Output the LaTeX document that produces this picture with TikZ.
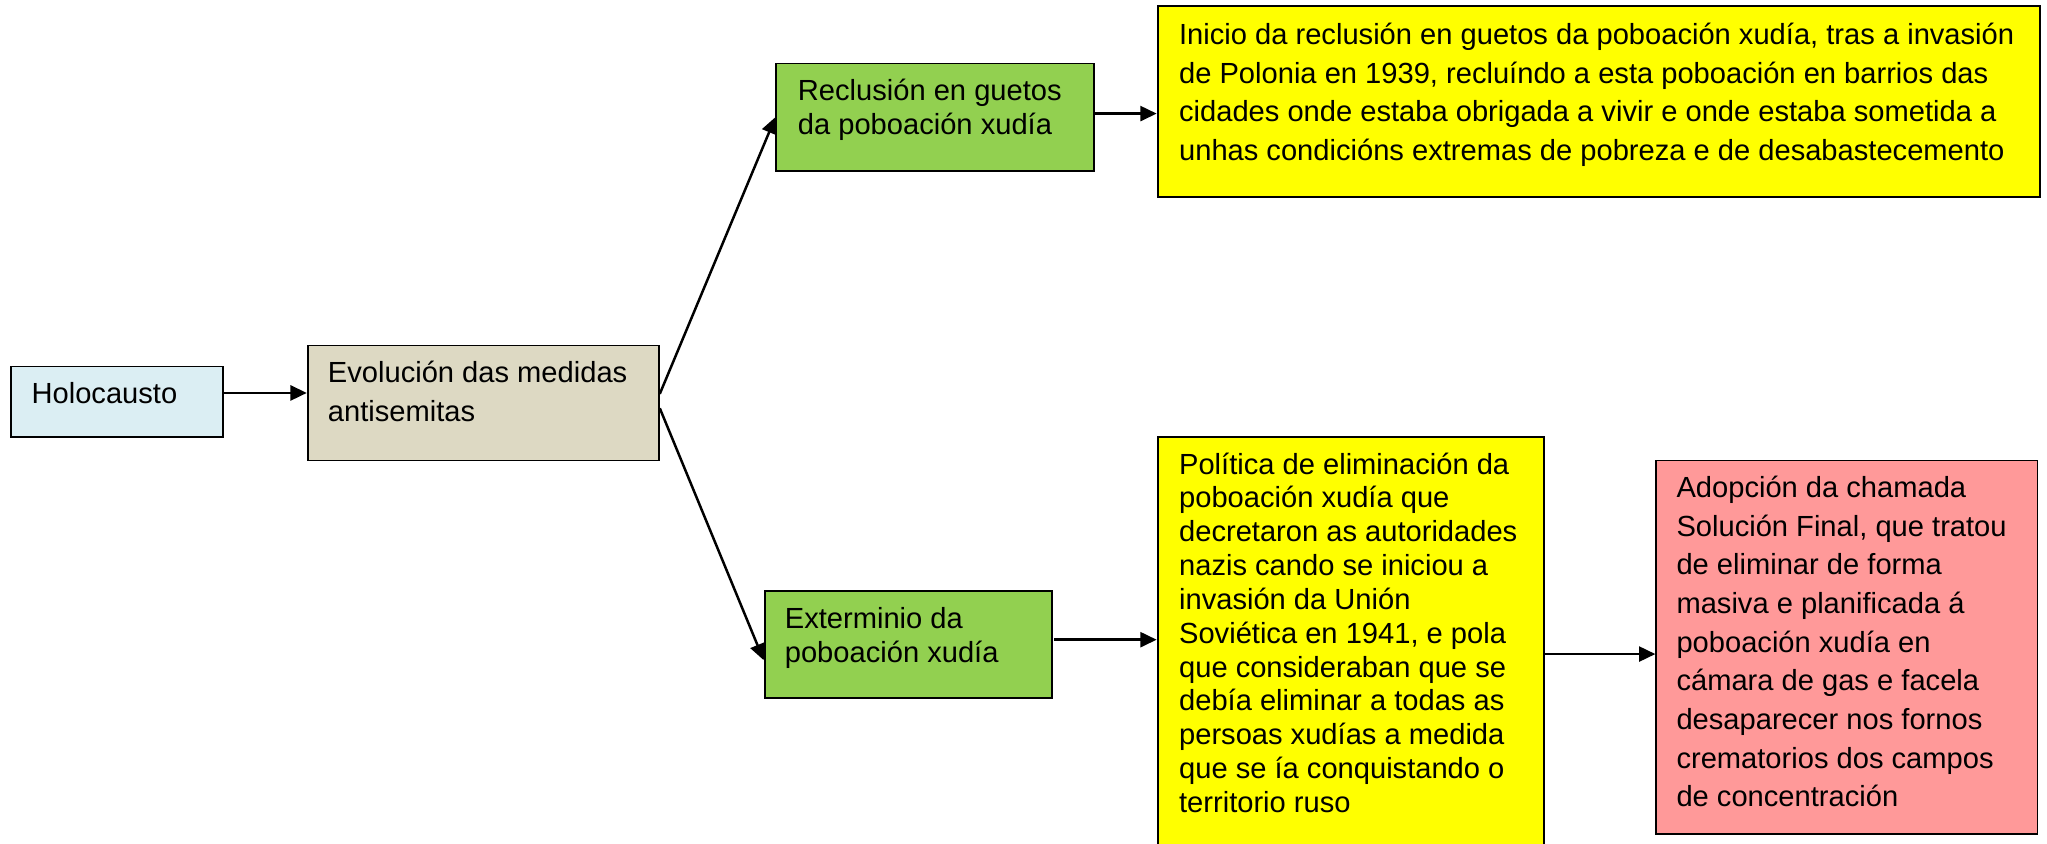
\documentclass[tikz,border=0pt]{standalone}
\usepackage{fontspec}
\setmainfont{Liberation Sans}
\usetikzlibrary{arrows.meta}
\definecolor{holoc}{HTML}{DBEEF3}
\definecolor{evolc}{HTML}{DDD9C3}
\definecolor{grnc}{HTML}{92D050}
\definecolor{ylwc}{HTML}{FFFF00}
\definecolor{pnkc}{HTML}{FF9999}
\newcommand{\fstrut}{\rule{0pt}{18pt}}
\tikzset{
  box/.style={draw=black, line width=1.4pt, anchor=north west, inner sep=0pt},
  lbl/.style={anchor=north west, inner sep=0pt, align=left, text=black, font=\fontsize{22.3}{29.6}\selectfont},
  lbltight/.style={lbl, font=\fontsize{22.3}{25.9}\selectfont},
  arr/.style={line width=1.9pt, -{Triangle[length=12.5pt,width=11.5pt]}},
}
\begin{document}
\begin{tikzpicture}[x=1pt,y=-1pt]
\useasboundingbox (0,0) rectangle (1568,646);
% boxes
\node[box, fill=holoc, minimum width=162pt, minimum height=54pt] (holo) at (8,280) {};
\node[box, fill=evolc, minimum width=269pt, minimum height=88pt] (evol) at (235,264) {};
\node[box, fill=grnc, minimum width=243pt, minimum height=82pt] (recl) at (594,48) {};
\node[box, fill=ylwc, minimum width=676pt, minimum height=146pt] (ytop) at (886,4) {};
\node[box, fill=grnc, minimum width=220pt, minimum height=82pt] (exte) at (585,452) {};
\node[box, fill=ylwc, minimum width=296pt, minimum height=330pt] (poli) at (886,334) {};
\node[box, fill=pnkc, minimum width=292pt, minimum height=286pt] (pink) at (1268,352) {};
% texts
\node[lbl] (tholo) at ([xshift=16pt,yshift=-11pt]holo.north west) {\fstrut Holocausto};
\node[lbl] (tevol) at ([xshift=16pt,yshift=-11pt]evol.north west) {\fstrut Evolución das medidas\\antisemitas};
\node[lbltight] (trecl) at ([xshift=17pt,yshift=-11pt]recl.north west) {\fstrut Reclusión en guetos\\da poboación xudía};
\node[lbl] (tytop) at ([xshift=17pt,yshift=-12pt]ytop.north west) {\fstrut Inicio da reclusión en guetos da poboación xudía, tras a invasión\\de Polonia en 1939, recluíndo a esta poboación en barrios das\\cidades onde estaba obrigada a vivir e onde estaba sometida a\\unhas condicións extremas de pobreza e de desabastecemento};
\node[lbltight] (texte) at ([xshift=16pt,yshift=-11pt]exte.north west) {\fstrut Exterminio da\\poboación xudía};
\node[lbltight] (tpoli) at ([xshift=17pt,yshift=-11pt]poli.north west) {\fstrut Política de eliminación da\\poboación xudía que\\decretaron as autoridades\\nazis cando se iniciou a\\invasión da Unión\\Soviética en 1941, e pola\\que consideraban que se\\debía eliminar a todas as\\persoas xudías a medida\\que se ía conquistando o\\territorio ruso};
\node[lbl] (tpink) at ([xshift=16pt,yshift=-11pt]pink.north west) {\fstrut Adopción da chamada\\Solución Final, que tratou\\de eliminar de forma\\masiva e planificada á\\poboación xudía en\\cámara de gas e facela\\desaparecer nos fornos\\crematorios dos campos\\de concentración};
% connectors
\draw[arr] (holo.east |- {0,301}) -- (evol.west |- {0,301});
\draw[arr] ([yshift=7pt]evol.east) -- ([yshift=0pt]recl.west);
\draw[arr] ([yshift=-4pt]evol.east) -- ([yshift=-12pt]exte.west);
\draw[arr] (recl.east |- {0,87}) -- (ytop.west |- {0,87});
\draw[arr] ([xshift=1pt]exte.east |- {0,490}) -- (poli.west |- {0,490});
\draw[arr] (poli.east |- {0,501}) -- (pink.west |- {0,501});
\end{tikzpicture}
\end{document}
